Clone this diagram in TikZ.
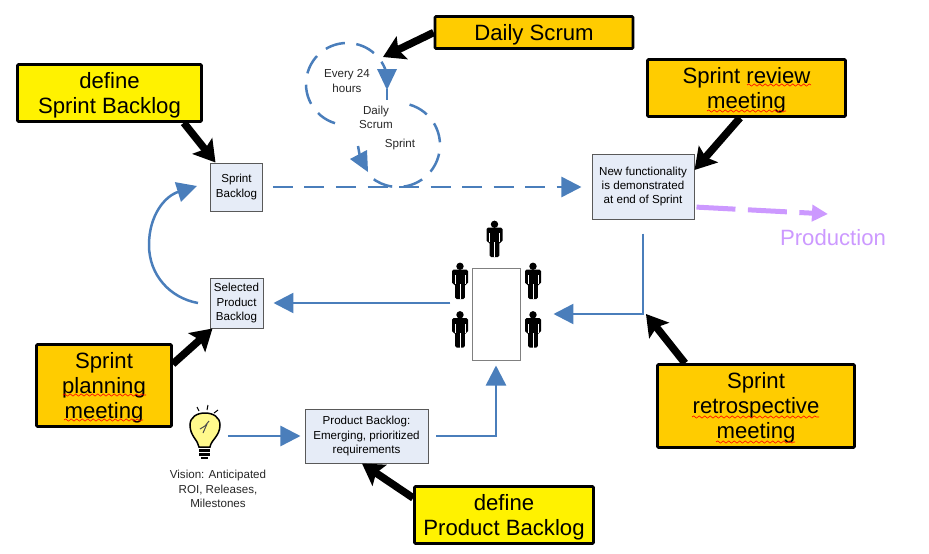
\documentclass[tikz,border=0pt]{standalone}
\usepackage{fontspec}
\setmainfont{Liberation Sans}
\usetikzlibrary{arrows.meta,decorations.pathmorphing}
\definecolor{scrumblue}{HTML}{4A7EBB}
\definecolor{scrumorange}{HTML}{FFCC00}
\definecolor{boxfill}{HTML}{E6ECF7}
\definecolor{prodviolet}{HTML}{CC99FF}
\newcommand{\toppad}{\rule{0pt}{11.5pt}}
\tikzset{
	bigbox/.style={draw=black,line width=0.052cm,rounded corners=0.02cm,align=center,font=\fontsize{12.6}{14.2}\selectfont},
	definebox/.style={bigbox,fill=yellow},
	meetingbox/.style={bigbox,fill=scrumorange},
	smallbox/.style={draw=black!65,line width=0.02cm,fill=boxfill,align=center,font=\fontsize{6.6}{8.1}\selectfont},
	smalltext/.style={align=center,text=black!85,font=\fontsize{6.6}{8.1}\selectfont},
	fatarrow/.style={line width=0.15cm,-{Stealth[length=0.42cm,width=0.5cm,inset=0.08cm]}},
	bluearrow/.style={draw=scrumblue,line width=0.05cm,-{Triangle[length=0.4cm,width=0.4cm]}},
	bluedash/.style={draw=scrumblue,line width=0.05cm,dash pattern=on 0.4cm off 0.23cm},
	squiggle/.style={draw=red,line width=0.012cm,decorate,decoration={snake,segment length=0.11cm,amplitude=0.022cm}},
	person/.pic={
		\fill [black] (0,1.47) circle (0.37);
		\fill [black,rounded corners=0.03cm] (-0.8,-0.3) -- (-0.8,1.13) -- (0.8,1.13) -- (0.8,-0.3) -- (0.5,-0.3) -- (0.48,-1.8) -- (-0.48,-1.8) -- (-0.5,-0.3) -- cycle;
		\draw [white,line width=0.01cm] (-0.5,-0.3) -- (-0.5,0.6);
		\draw [white,line width=0.01cm] (0.5,-0.3) -- (0.5,0.6);
		\draw [white,line width=0.02cm] (0,-1.8) -- (0,-0.3);
	}
}
\begin{document}
\begin{tikzpicture}[scale=0.2]
	\tikzstyle{every node}+=[inner sep=0pt]
	\useasboundingbox (0,0) rectangle (92.9,-55.3);
	\node [meetingbox,minimum width=3.96cm,minimum height=0.64cm] (daily) at (53.4,-3.25) {\toppad Daily Scrum};
	\node [definebox,minimum width=3.68cm,minimum height=1.14cm] (defsprint) at (10.95,-9.3) {\toppad define\\Sprint Backlog};
	\node [meetingbox,minimum width=3.96cm,minimum height=1.14cm] (review) at (74.65,-8.8) {\toppad Sprint review\\meeting};
	\node [meetingbox,minimum width=2.7cm,minimum height=1.64cm] (planning) at (10.4,-38.55) {\toppad Sprint\\planning\\meeting};
	\node [meetingbox,minimum width=3.94cm,minimum height=1.66cm] (retro) at (75.6,-40.6) {\toppad Sprint\\retrospective\\meeting};
	\node [definebox,minimum width=3.58cm,minimum height=1.14cm] (defproduct) at (50.4,-51.5) {\toppad define\\Product Backlog};
	\node [smallbox,minimum width=1.04cm,minimum height=0.96cm] (sprintbacklog) at (23.65,-18.7) {Sprint\\Backlog};
	\node [smallbox,minimum width=1.06cm,minimum height=1cm] (selected) at (23.65,-30.3) {Selected\\Product\\Backlog};
	\node [smallbox,minimum width=2.04cm,minimum height=1.3cm] (newfunc) at (64.3,-18.65) {New functionality\\is demonstrated\\at end of Sprint};
	\node [smallbox,minimum width=2.46cm,minimum height=1.08cm] (productbacklog) at (36.65,-43.6) {Product Backlog:\\Emerging, prioritized\\requirements};
	\node [draw=black!50,line width=0.02cm,minimum width=0.96cm,minimum height=1.84cm] (table) at (49.6,-31.4) {};
	\node [smalltext] (every) at (34.7,-8.1) {Every 24\\hours};
	\node [smalltext] (dailytext) at (37.6,-11.7) {Daily\\Scrum};
	\node [smalltext] (sprinttext) at (40,-14.4) {Sprint};
	\node [smalltext] (vision) at (21.8,-48.9) {Vision: Anticipated\\ROI, Releases,\\Milestones};
	\node [text=prodviolet,font=\fontsize{12.6}{14.2}\selectfont] (production) at (83.3,-23.8) {Production};
	\pic [scale=0.2] at (49.45,-23.9) {person};
	\pic [scale=0.2] at (46,-28.1) {person};
	\pic [scale=0.2] at (53.3,-28.1) {person};
	\pic [scale=0.2] at (46,-32.95) {person};
	\pic [scale=0.2] at (53.3,-32.95) {person};
	\coordinate (bulb) at (20.5,-42.6);
	\coordinate (dailytip) at (38.3,-5.7);
	\coordinate (retrotip) at (64.6,-31.4);
	\coordinate (prodtip) at (82.8,-21.4);
	\coordinate (loopstart) at (19.8,-30.3);
	\coordinate (looptip) at (19.7,-18.6);
	\coordinate (topring) at (34.7,-8.4);
	\coordinate (lowring) at (39.8,-14.5);
	\draw [fatarrow] (daily.west) -- (dailytip);
	\draw [fatarrow] ([xshift=-1.9cm]defsprint.south east) -- ([xshift=0.55cm]sprintbacklog.north west);
	\draw [fatarrow] ([xshift=-0.65cm]review.south) -- ([yshift=1.65cm]newfunc.east);
	\draw [fatarrow] ([yshift=2.15cm]planning.east) -- ([xshift=0.3cm]selected.south west);
	\draw [fatarrow] ([xshift=-7.1cm]retro.north) -- (retrotip);
	\draw [fatarrow] ([yshift=1.7cm]defproduct.west) -- ([xshift=-0.45cm]productbacklog.south);
	\draw [bluedash,shorten <=0.2cm,-{Triangle[length=0.4cm,width=0.4cm]},shorten >=0.2cm] (sprintbacklog.east) -- (newfunc.west |- sprintbacklog.east);
	\draw [bluearrow,shorten <=0.42cm,shorten >=0.2cm] (table.west |- selected.east) -- (selected.east);
	\draw [bluearrow,shorten <=0.28cm,shorten >=0.66cm] (newfunc.south) |- (table.east);
	\draw [bluearrow,shorten <=0.16cm,shorten >=0.1cm] (productbacklog.east) -| (table.south);
	\draw [bluearrow,shorten <=0.1cm,shorten >=0.08cm] (bulb |- productbacklog.west) ++(1.8,0) -- (productbacklog.west);
	\draw [bluearrow] (loopstart) .. controls (17,-29.8) and (14.9,-27.5) .. (14.9,-24.5) .. controls (14.9,-21.5) and (16.5,-19.6) .. (looptip);
	\draw [bluedash] ([shift={(253:4.1)}]topring) arc (253:-8:4.1);
	\draw [scrumblue,line width=0.05cm] (38.7,-8.9) -- (38.7,-10);
	\fill [scrumblue] (37.7,-6.9) -- (39.7,-6.9) -- (38.7,-9) -- cycle;
	\draw [bluedash] ([shift={(74:4.2)}]lowring) arc (74:-138:4.2);
	\draw [scrumblue,line width=0.05cm] (35.8,-14.6) -- (36,-15.7);
	\fill [scrumblue] (35,-15.9) -- (36.7,-15) -- (36.8,-17.2) -- cycle;
	\draw [prodviolet,line width=0.1cm,dash pattern=on 0.78cm off 0.25cm,shorten <=0.04cm,-{Triangle[length=0.32cm,width=0.32cm]}] (newfunc.east |- 0,-20.7) -- (prodtip);
	\draw [squiggle] (74.7,-8.5) -- (81.1,-8.5);
	\draw [squiggle] (70.7,-11.1) -- (78.6,-11.1);
	\draw [squiggle] (6.3,-39.5) -- (14.6,-39.5);
	\draw [squiggle] (6.4,-42) -- (14.3,-42);
	\draw [squiggle] (69.2,-41.7) -- (81.9,-41.7);
	\draw [squiggle] (71.6,-44.2) -- (79.5,-44.2);
	\draw [black,line width=0.03cm,fill=yellow!45] (19.9,-44.7) .. controls (19.8,-44) and (19,-43.6) .. (19,-42.5) .. controls (19,-41.7) and (19.7,-41.3) .. (20.5,-41.3) .. controls (21.3,-41.3) and (22,-41.7) .. (22,-42.5) .. controls (22,-43.6) and (21.1,-44) .. (21,-44.7) -- cycle;
	\draw [black,line width=0.06cm] (19.9,-45) -- (20.95,-45);
	\draw [black,line width=0.06cm] (19.9,-45.4) -- (20.95,-45.4);
	\draw [black,line width=0.05cm] (20.1,-45.8) -- (20.8,-45.8);
	\draw [black!70,line width=0.02cm] (20,-42.9) -- (20.5,-42.6) -- (20.9,-42.1);
	\draw [black!70,line width=0.02cm] (20.3,-43.3) -- (20.7,-42.4);
	\draw [black,line width=0.02cm] (19.7,-40.7) -- (19.9,-41.1);
	\draw [black,line width=0.02cm] (20.8,-40.5) -- (20.7,-41);
	\draw [black,line width=0.02cm] (21.8,-41) -- (21.4,-41.3);
\end{tikzpicture}
\end{document}
